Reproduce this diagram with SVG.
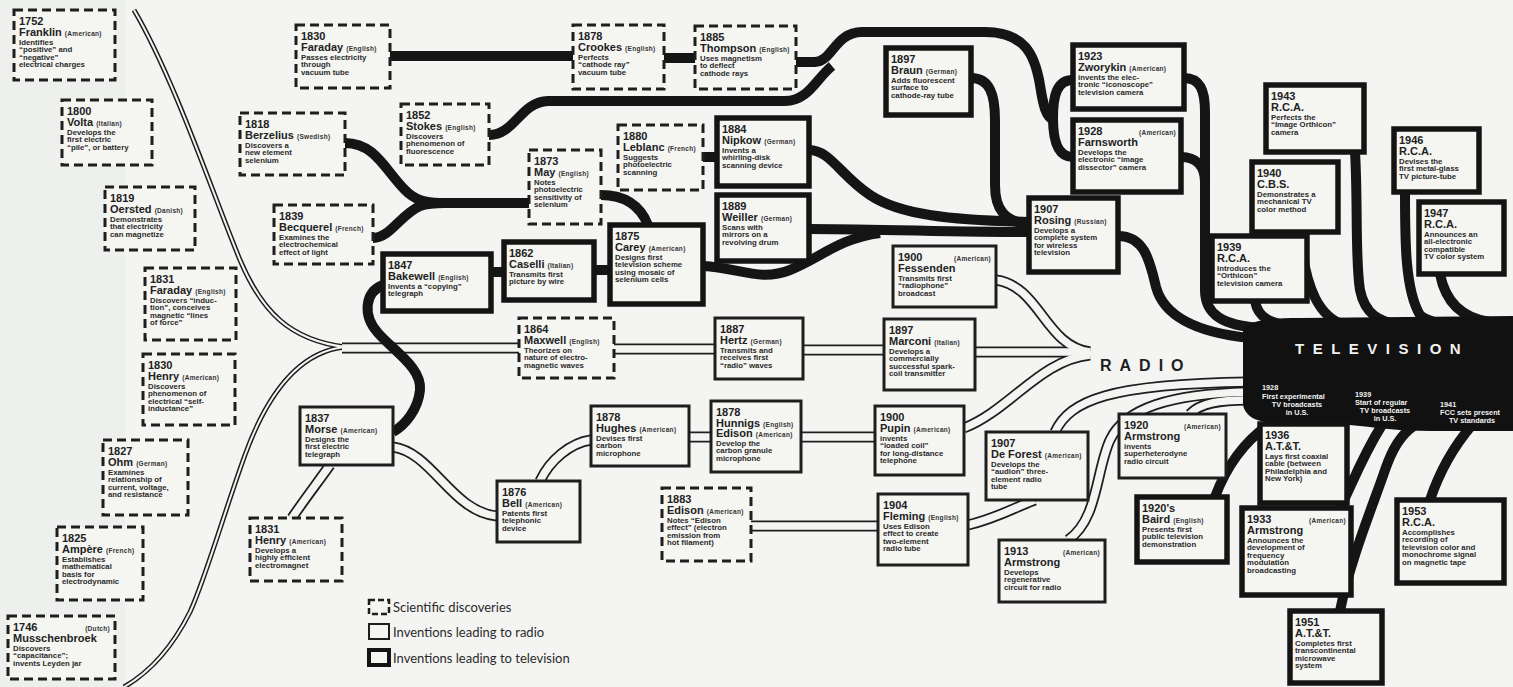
<svg xmlns="http://www.w3.org/2000/svg" xmlns:xlink="http://www.w3.org/1999/xlink" width="1513" height="687" viewBox="0 0 1513 687">
<style>
.bg{fill:#f4f5f2}
.sd{fill:#f5f5f2;stroke:#1e1e1e;stroke-width:3;stroke-dasharray:9 5}
.rd{fill:#f5f5f2;stroke:#1e1e1e;stroke-width:3}
.tvb{fill:#f5f5f2;stroke:#141414;stroke-width:5.5}
.yr{font-family:"Liberation Sans",Arial,sans-serif;font-weight:700;font-size:11px;fill:#222}
.nm{font-family:"Liberation Sans",Arial,sans-serif;font-weight:700;font-size:11px;fill:#222}
.nt{font-family:"Liberation Sans",Arial,sans-serif;font-weight:700;font-size:6.5px;fill:#333;letter-spacing:0.3px}
.ds{font-family:"Liberation Sans",Arial,sans-serif;font-weight:700;font-size:7.8px;fill:#2a2a2a}
.tv{fill:none;stroke:#151515;stroke-width:10}
.rb{fill:none;stroke:#1e1e1e;stroke-width:11}
.rw{fill:none;stroke:#f4f5f2;stroke-width:7.5}
.lb{fill:none;stroke:#1e1e1e;stroke-width:5}
.lw{fill:none;stroke:#f4f5f2;stroke-width:2}
.big{font-family:"Liberation Sans",Arial,sans-serif;font-weight:700}
.wt{font-family:"Liberation Sans",Arial,sans-serif;font-weight:700;font-size:7.3px;fill:#f2f2f2}
.lg{font-family:Lato,"Open Sans",sans-serif;font-size:13px;fill:#2a2a2a}
</style>
<defs>
<path id="r1" d="M134,10 C175,80 215,200 240,260 C262,312 290,340 345,347"/>
<path id="r2" d="M345,347 C295,352 265,400 245,455 C225,510 205,580 190,612 C172,648 150,672 124,687"/>
<path id="r3" d="M342,348 H519"/>
<path id="r4" d="M614,349 H715"/>
<path id="r5" d="M803,350 H884"/>
<path id="r6" d="M975,352 H1090"/>
<path id="r7" d="M996,280 C1040,286 1045,346 1090,352"/>
<path id="r8" d="M964,428 C1010,410 1040,360 1090,355"/>
<path id="r9" d="M393,447 C432,452 452,512 497,516"/>
<path id="r10" d="M540,481 C550,460 570,443 591,440"/>
<path id="r11" d="M689,437 H711"/>
<path id="r12" d="M801,437 H875"/>
<path id="r13" d="M330,465 C318,482 304,500 292,518"/>
<path id="r14" d="M751,526 H878"/>
<path id="r15" d="M968,525 C998,518 1020,505 1035,500"/>
<path id="r16" d="M1068,540 C1098,520 1096,470 1110,440 C1125,408 1170,394 1248,392"/>
<path id="r17" d="M1055,432 C1070,400 1110,384 1248,382"/>
<path id="r18" d="M1190,414 C1200,403 1220,400 1248,400"/>
</defs>
<rect class="bg" x="0" y="0" width="1513" height="687"/>
<rect x="0" y="0" width="125" height="687" fill="#eef0ee"/>

<g id="connectors">
<g id="radio-lines">
<use xlink:href="#r1" class="lb"/><use xlink:href="#r2" class="lb"/>
<use xlink:href="#r3" class="rb"/><use xlink:href="#r4" class="rb"/><use xlink:href="#r5" class="rb"/><use xlink:href="#r6" class="rb"/><use xlink:href="#r7" class="rb"/><use xlink:href="#r8" class="rb"/><use xlink:href="#r9" class="rb"/><use xlink:href="#r10" class="rb"/><use xlink:href="#r11" class="rb"/><use xlink:href="#r12" class="rb"/><use xlink:href="#r13" class="rb"/><use xlink:href="#r14" class="rb"/><use xlink:href="#r15" class="rb"/><use xlink:href="#r16" class="rb"/><use xlink:href="#r17" class="rb"/><use xlink:href="#r18" class="rb"/>
<use xlink:href="#r1" class="lw"/><use xlink:href="#r2" class="lw"/>
<use xlink:href="#r3" class="rw"/><use xlink:href="#r4" class="rw"/><use xlink:href="#r5" class="rw"/><use xlink:href="#r6" class="rw"/><use xlink:href="#r7" class="rw"/><use xlink:href="#r8" class="rw"/><use xlink:href="#r9" class="rw"/><use xlink:href="#r10" class="rw"/><use xlink:href="#r11" class="rw"/><use xlink:href="#r12" class="rw"/><use xlink:href="#r13" class="rw"/><use xlink:href="#r14" class="rw"/><use xlink:href="#r15" class="rw"/><use xlink:href="#r16" class="rw"/><use xlink:href="#r17" class="rw"/><use xlink:href="#r18" class="rw"/>
</g>
<g id="tv-lines">
<path class="tv" d="M390,56 H573"/>
<path class="tv" d="M663,58 H695"/>
<path class="tv" d="M796,62 H815 C832,62 835,32 862,32 H985 C1025,32 1035,55 1040,85 C1043,105 1046,118 1054,120"/>
<path class="tv" d="M489,135 C515,135 520,102 548,101 H785 C808,101 815,80 832,66"/>
<path class="tv" d="M1073,80 C1057,80 1053,95 1053,118 C1053,140 1057,157 1073,157"/>
<path class="tv" d="M1184,78 C1200,78 1205,90 1205,112 V290 C1205,314 1222,326 1262,328"/>
<path class="tv" d="M1181,157 C1195,157 1205,165 1205,182"/>
<path class="tv" d="M1118,236 C1145,236 1150,262 1156,287 C1163,313 1190,332 1250,338"/>
<path class="tv" d="M345,143 C375,143 385,170 405,190 C415,200 425,203 440,203 H529"/>
<path class="tv" d="M373,238 C390,238 400,215 420,206 C428,203 435,203 445,203"/>
<path class="tv" d="M383,285 C365,292 362,315 378,333 C395,352 422,368 420,390 C418,410 405,425 393,432"/>
<path class="tv" d="M491,272 H504"/>
<path class="tv" d="M594,270 H610"/>
<path class="tv" d="M601,195 C625,195 640,205 648,225"/>
<path class="tv" d="M703,157 H717"/>
<path class="tv" d="M809,150 C830,150 840,175 870,195 C900,215 950,220 1029,222"/>
<path class="tv" d="M809,229 C870,229 940,232 1029,232"/>
<path class="tv" d="M703,266 C740,268 760,282 790,270 C820,258 840,238 880,233"/>
<path class="tv" d="M971,78 C990,78 995,95 995,120 V185 C995,210 1005,222 1029,224"/>
<path class="tv" d="M1255,301 C1258,318 1270,324 1295,326"/>
<path class="tv" d="M1300,232 C1305,290 1320,318 1345,325"/>
<path class="tv" d="M1355,152 C1358,200 1355,260 1360,290 C1365,315 1380,322 1400,325"/>
<path class="tv" d="M1405,192 C1405,240 1405,290 1420,315 C1428,322 1440,324 1455,325"/>
<path class="tv" d="M1440,274 C1445,300 1460,318 1490,322"/>
<path class="tv" d="M1215,497 C1225,470 1240,445 1268,425"/>
<path class="tv" d="M1340,508 C1350,490 1360,460 1382,425"/>
<path class="tv" d="M1340,611 C1350,560 1375,500 1385,470 C1392,450 1400,435 1415,425"/>
<path class="tv" d="M1430,500 C1440,470 1455,445 1472,425"/>
</g>
</g>

<g id="television-trunk">
<path d="M1243,330 C1248,321 1268,318 1300,318 L1513,316 L1513,431 L1430,431 C1400,431 1380,428 1360,426 L1320,422 L1270,422 C1254,422 1244,414 1243,404 Z" fill="#111"/>
<text class="big" x="1295" y="354" font-size="15" fill="#f2f2f2" letter-spacing="8.5">TELEVISION</text>
<text class="wt" x="1262" y="390">1928</text>
<text class="wt" x="1262" y="399">First experimental</text>
<text class="wt" x="1297" y="407" text-anchor="middle">TV broadcasts</text>
<text class="wt" x="1297" y="415" text-anchor="middle">in U.S.</text>
<text class="wt" x="1355" y="397">1939</text>
<text class="wt" x="1355" y="405">Start of regular</text>
<text class="wt" x="1385" y="413" text-anchor="middle">TV broadcasts</text>
<text class="wt" x="1385" y="421" text-anchor="middle">in U.S.</text>
<text class="wt" x="1440" y="407">1941</text>
<text class="wt" x="1440" y="415">FCC sets present</text>
<text class="wt" x="1472" y="423" text-anchor="middle">TV standards</text>
</g>
<g id="radio-label">
<text class="big" x="1100" y="371" font-size="16" fill="#1e1e1e" letter-spacing="8">RADIO</text>
</g>

<!-- Scientific discoveries -->
<g id="n-franklin-1752"><rect class="sd" x="14" y="10" width="101" height="70"/><text class="yr" x="19" y="25">1752</text><text class="nm" x="19" y="36">Franklin <tspan class="nt">(American)</tspan></text><text class="ds" y="44.5"><tspan x="19">Identifies</tspan><tspan x="19" dy="7.5">“positive” and</tspan><tspan x="19" dy="7.5">“negative”</tspan><tspan x="19" dy="7.5">electrical charges</tspan></text></g>
<g id="n-volta-1800"><rect class="sd" x="62" y="100" width="90" height="65"/><text class="yr" x="67" y="115">1800</text><text class="nm" x="67" y="126">Volta <tspan class="nt">(Italian)</tspan></text><text class="ds" y="134.5"><tspan x="67">Develops the</tspan><tspan x="67" dy="7.5">first electric</tspan><tspan x="67" dy="7.5">“pile”, or battery</tspan></text></g>
<g id="n-oersted-1819"><rect class="sd" x="105" y="187" width="90" height="63"/><text class="yr" x="110" y="202">1819</text><text class="nm" x="110" y="213">Oersted <tspan class="nt">(Danish)</tspan></text><text class="ds" y="221.5"><tspan x="110">Demonstrates</tspan><tspan x="110" dy="7.5">that electricity</tspan><tspan x="110" dy="7.5">can magnetize</tspan></text></g>
<g id="n-faraday-1831"><rect class="sd" x="145" y="268" width="91" height="72"/><text class="yr" x="150" y="283">1831</text><text class="nm" x="150" y="294">Faraday <tspan class="nt">(English)</tspan></text><text class="ds" y="302.5"><tspan x="150">Discovers “induc-</tspan><tspan x="150" dy="7.5">tion”, conceives</tspan><tspan x="150" dy="7.5">magnetic “lines</tspan><tspan x="150" dy="7.5">of force”</tspan></text></g>
<g id="n-henry-1830"><rect class="sd" x="143" y="354" width="92" height="71"/><text class="yr" x="148" y="369">1830</text><text class="nm" x="148" y="380">Henry <tspan class="nt">(American)</tspan></text><text class="ds" y="388.5"><tspan x="148">Discovers</tspan><tspan x="148" dy="7.5">phenomenon of</tspan><tspan x="148" dy="7.5">electrical “self-</tspan><tspan x="148" dy="7.5">inductance”</tspan></text></g>
<g id="n-ohm-1827"><rect class="sd" x="103" y="440" width="85" height="75"/><text class="yr" x="108" y="455">1827</text><text class="nm" x="108" y="466">Ohm <tspan class="nt">(German)</tspan></text><text class="ds" y="474.5"><tspan x="108">Examines</tspan><tspan x="108" dy="7.5">relationship of</tspan><tspan x="108" dy="7.5">current, voltage,</tspan><tspan x="108" dy="7.5">and resistance</tspan></text></g>
<g id="n-ampere-1825"><rect class="sd" x="57" y="527" width="86" height="73"/><text class="yr" x="62" y="542">1825</text><text class="nm" x="62" y="553">Ampère <tspan class="nt">(French)</tspan></text><text class="ds" y="561.5"><tspan x="62">Establishes</tspan><tspan x="62" dy="7.5">mathematical</tspan><tspan x="62" dy="7.5">basis for</tspan><tspan x="62" dy="7.5">electrodynamic</tspan></text></g>
<g id="n-musschenbroek-1746"><rect class="sd" x="8" y="616" width="107" height="63"/><text class="yr" x="13" y="631">1746</text><text class="nt" x="110" y="631" text-anchor="end">(Dutch)</text><text class="nm" x="13" y="642">Musschenbroek</text><text class="ds" y="650.5"><tspan x="13">Discovers</tspan><tspan x="13" dy="7.5">“capacitance”;</tspan><tspan x="13" dy="7.5">invents Leyden jar</tspan></text></g>
<g id="n-faraday-1830"><rect class="sd" x="296" y="25" width="94" height="63"/><text class="yr" x="301" y="40">1830</text><text class="nm" x="301" y="51">Faraday <tspan class="nt">(English)</tspan></text><text class="ds" y="59.5"><tspan x="301">Passes electricity</tspan><tspan x="301" dy="7.5">through</tspan><tspan x="301" dy="7.5">vacuum tube</tspan></text></g>
<g id="n-berzelius-1818"><rect class="sd" x="240" y="113" width="105" height="62"/><text class="yr" x="245" y="128">1818</text><text class="nm" x="245" y="139">Berzelius <tspan class="nt">(Swedish)</tspan></text><text class="ds" y="147.5"><tspan x="245">Discovers a</tspan><tspan x="245" dy="7.5">new element</tspan><tspan x="245" dy="7.5">selenium</tspan></text></g>
<g id="n-becquerel-1839"><rect class="sd" x="274" y="205" width="99" height="59"/><text class="yr" x="279" y="220">1839</text><text class="nm" x="279" y="231">Becquerel <tspan class="nt">(French)</tspan></text><text class="ds" y="239.5"><tspan x="279">Examines the</tspan><tspan x="279" dy="7.5">electrochemical</tspan><tspan x="279" dy="7.5">effect of light</tspan></text></g>
<g id="n-stokes-1852"><rect class="sd" x="401" y="104" width="88" height="61"/><text class="yr" x="406" y="119">1852</text><text class="nm" x="406" y="130">Stokes <tspan class="nt">(English)</tspan></text><text class="ds" y="138.5"><tspan x="406">Discovers</tspan><tspan x="406" dy="7.5">phenomenon of</tspan><tspan x="406" dy="7.5">fluorescence</tspan></text></g>
<g id="n-crookes-1878"><rect class="sd" x="573" y="25" width="91" height="64"/><text class="yr" x="578" y="40">1878</text><text class="nm" x="578" y="51">Crookes <tspan class="nt">(English)</tspan></text><text class="ds" y="59.5"><tspan x="578">Perfects</tspan><tspan x="578" dy="7.5">“cathode ray”</tspan><tspan x="578" dy="7.5">vacuum tube</tspan></text></g>
<g id="n-thompson-1885"><rect class="sd" x="695" y="26" width="101" height="63"/><text class="yr" x="700" y="41">1885</text><text class="nm" x="700" y="52">Thompson <tspan class="nt">(English)</tspan></text><text class="ds" y="60.5"><tspan x="700">Uses magnetism</tspan><tspan x="700" dy="7.5">to deflect</tspan><tspan x="700" dy="7.5">cathode rays</tspan></text></g>
<g id="n-leblanc-1880"><rect class="sd" x="618" y="125" width="85" height="65"/><text class="yr" x="623" y="140">1880</text><text class="nm" x="623" y="151">Leblanc <tspan class="nt">(French)</tspan></text><text class="ds" y="159.5"><tspan x="623">Suggests</tspan><tspan x="623" dy="7.5">photoelectric</tspan><tspan x="623" dy="7.5">scanning</tspan></text></g>
<g id="n-may-1873"><rect class="sd" x="529" y="150" width="72" height="74"/><text class="yr" x="534" y="165">1873</text><text class="nm" x="534" y="176">May <tspan class="nt">(English)</tspan></text><text class="ds" y="184.5"><tspan x="534">Notes</tspan><tspan x="534" dy="7.5">photoelectric</tspan><tspan x="534" dy="7.5">sensitivity of</tspan><tspan x="534" dy="7.5">selenium</tspan></text></g>
<g id="n-maxwell-1864"><rect class="sd" x="519" y="318" width="95" height="60"/><text class="yr" x="524" y="333">1864</text><text class="nm" x="524" y="344">Maxwell <tspan class="nt">(English)</tspan></text><text class="ds" y="352.5"><tspan x="524">Theorizes on</tspan><tspan x="524" dy="7.5">nature of electro-</tspan><tspan x="524" dy="7.5">magnetic waves</tspan></text></g>
<g id="n-henry-1831"><rect class="sd" x="250" y="518" width="92" height="63"/><text class="yr" x="255" y="533">1831</text><text class="nm" x="255" y="544">Henry <tspan class="nt">(American)</tspan></text><text class="ds" y="552.5"><tspan x="255">Develops a</tspan><tspan x="255" dy="7.5">highly efficient</tspan><tspan x="255" dy="7.5">electromagnet</tspan></text></g>
<g id="n-edison-1883"><rect class="sd" x="662" y="488" width="89" height="73"/><text class="yr" x="667" y="503">1883</text><text class="nm" x="667" y="514">Edison <tspan class="nt">(American)</tspan></text><text class="ds" y="522.5"><tspan x="667">Notes “Edison</tspan><tspan x="667" dy="7.5">effect” (electron</tspan><tspan x="667" dy="7.5">emission from</tspan><tspan x="667" dy="7.5">hot filament)</tspan></text></g>

<!-- Inventions leading to radio -->
<g id="n-morse-1837"><rect class="rd" x="300" y="407" width="93" height="58"/><text class="yr" x="305" y="422">1837</text><text class="nm" x="305" y="433">Morse <tspan class="nt">(American)</tspan></text><text class="ds" y="441.5"><tspan x="305">Designs the</tspan><tspan x="305" dy="7.5">first electric</tspan><tspan x="305" dy="7.5">telegraph</tspan></text></g>
<g id="n-bell-1876"><rect class="rd" x="497" y="481" width="83" height="61"/><text class="yr" x="502" y="496">1876</text><text class="nm" x="502" y="507">Bell <tspan class="nt">(American)</tspan></text><text class="ds" y="515.5"><tspan x="502">Patents first</tspan><tspan x="502" dy="7.5">telephonic</tspan><tspan x="502" dy="7.5">device</tspan></text></g>
<g id="n-hughes-1878"><rect class="rd" x="591" y="406" width="98" height="60"/><text class="yr" x="596" y="421">1878</text><text class="nm" x="596" y="432">Hughes <tspan class="nt">(American)</tspan></text><text class="ds" y="440.5"><tspan x="596">Devises first</tspan><tspan x="596" dy="7.5">carbon</tspan><tspan x="596" dy="7.5">microphone</tspan></text></g>
<g id="n-hunnigs-edison-1878"><rect class="rd" x="711" y="401" width="90" height="71"/><text class="yr" x="716" y="416">1878</text><text class="nm" x="716" y="427">Hunnigs <tspan class="nt">(English)</tspan></text><text class="nm" x="716" y="437">Edison <tspan class="nt">(American)</tspan></text><text class="ds" y="445.5"><tspan x="716">Develop the</tspan><tspan x="716" dy="7.5">carbon granule</tspan><tspan x="716" dy="7.5">microphone</tspan></text></g>
<g id="n-hertz-1887"><rect class="rd" x="715" y="318" width="88" height="61"/><text class="yr" x="720" y="333">1887</text><text class="nm" x="720" y="344">Hertz <tspan class="nt">(German)</tspan></text><text class="ds" y="352.5"><tspan x="720">Transmits and</tspan><tspan x="720" dy="7.5">receives first</tspan><tspan x="720" dy="7.5">“radio” waves</tspan></text></g>
<g id="n-fessenden-1900"><rect class="rd" x="893" y="246" width="103" height="61"/><text class="yr" x="898" y="261">1900</text><text class="nt" x="991" y="261" text-anchor="end">(American)</text><text class="nm" x="898" y="272">Fessenden</text><text class="ds" y="280.5"><tspan x="898">Transmits first</tspan><tspan x="898" dy="7.5">“radiophone”</tspan><tspan x="898" dy="7.5">broadcast</tspan></text></g>
<g id="n-marconi-1897"><rect class="rd" x="884" y="319" width="91" height="71"/><text class="yr" x="889" y="334">1897</text><text class="nm" x="889" y="345">Marconi <tspan class="nt">(Italian)</tspan></text><text class="ds" y="353.5"><tspan x="889">Develops a</tspan><tspan x="889" dy="7.5">commercially</tspan><tspan x="889" dy="7.5">successful spark-</tspan><tspan x="889" dy="7.5">coil transmitter</tspan></text></g>
<g id="n-pupin-1900"><rect class="rd" x="875" y="406" width="89" height="69"/><text class="yr" x="880" y="421">1900</text><text class="nm" x="880" y="432">Pupin <tspan class="nt">(American)</tspan></text><text class="ds" y="440.5"><tspan x="880">invents</tspan><tspan x="880" dy="7.5">“loaded coil”</tspan><tspan x="880" dy="7.5">for long-distance</tspan><tspan x="880" dy="7.5">telephone</tspan></text></g>
<g id="n-fleming-1904"><rect class="rd" x="878" y="494" width="90" height="71"/><text class="yr" x="883" y="509">1904</text><text class="nm" x="883" y="520">Fleming <tspan class="nt">(English)</tspan></text><text class="ds" y="528.5"><tspan x="883">Uses Edison</tspan><tspan x="883" dy="7.5">effect to create</tspan><tspan x="883" dy="7.5">two-element</tspan><tspan x="883" dy="7.5">radio tube</tspan></text></g>
<g id="n-deforest-1907"><rect class="rd" x="986" y="432" width="102" height="68"/><text class="yr" x="991" y="447">1907</text><text class="nm" x="991" y="458">De Forest <tspan class="nt">(American)</tspan></text><text class="ds" y="466.5"><tspan x="991">Develops the</tspan><tspan x="991" dy="7.5">“audion” three-</tspan><tspan x="991" dy="7.5">element radio</tspan><tspan x="991" dy="7.5">tube</tspan></text></g>
<g id="n-armstrong-1913"><rect class="rd" x="999" y="540" width="106" height="62"/><text class="yr" x="1004" y="555">1913</text><text class="nt" x="1100" y="555" text-anchor="end">(American)</text><text class="nm" x="1004" y="566">Armstrong</text><text class="ds" y="574.5"><tspan x="1004">Develops</tspan><tspan x="1004" dy="7.5">regenerative</tspan><tspan x="1004" dy="7.5">circuit for radio</tspan></text></g>
<g id="n-armstrong-1920"><rect class="rd" x="1119" y="414" width="107" height="64"/><text class="yr" x="1124" y="429">1920</text><text class="nt" x="1221" y="429" text-anchor="end">(American)</text><text class="nm" x="1124" y="440">Armstrong</text><text class="ds" y="448.5"><tspan x="1124">invents</tspan><tspan x="1124" dy="7.5">superheterodyne</tspan><tspan x="1124" dy="7.5">radio circuit</tspan></text></g>

<!-- Inventions leading to television -->
<g id="n-bakewell-1847"><rect class="tvb" x="383" y="254" width="108" height="57"/><text class="yr" x="388" y="269">1847</text><text class="nm" x="388" y="280">Bakewell <tspan class="nt">(English)</tspan></text><text class="ds" y="288.5"><tspan x="388">Invents a “copying”</tspan><tspan x="388" dy="7.5">telegraph</tspan></text></g>
<g id="n-caselli-1862"><rect class="tvb" x="504" y="242" width="90" height="58"/><text class="yr" x="509" y="257">1862</text><text class="nm" x="509" y="268">Caselli <tspan class="nt">(Italian)</tspan></text><text class="ds" y="276.5"><tspan x="509">Transmits first</tspan><tspan x="509" dy="7.5">picture by wire</tspan></text></g>
<g id="n-carey-1875"><rect class="tvb" x="610" y="225" width="93" height="79"/><text class="yr" x="615" y="240">1875</text><text class="nm" x="615" y="251">Carey <tspan class="nt">(American)</tspan></text><text class="ds" y="259.5"><tspan x="615">Designs first</tspan><tspan x="615" dy="7.5">television scheme</tspan><tspan x="615" dy="7.5">using mosaic of</tspan><tspan x="615" dy="7.5">selenium cells</tspan></text></g>
<g id="n-nipkow-1884"><rect class="tvb" x="717" y="118" width="92" height="68"/><text class="yr" x="722" y="133">1884</text><text class="nm" x="722" y="144">Nipkow <tspan class="nt">(German)</tspan></text><text class="ds" y="152.5"><tspan x="722">Invents a</tspan><tspan x="722" dy="7.5">whirling-disk</tspan><tspan x="722" dy="7.5">scanning device</tspan></text></g>
<g id="n-weiller-1889"><rect class="tvb" x="717" y="195" width="92" height="66"/><text class="yr" x="722" y="210">1889</text><text class="nm" x="722" y="221">Weiller <tspan class="nt">(German)</tspan></text><text class="ds" y="229.5"><tspan x="722">Scans with</tspan><tspan x="722" dy="7.5">mirrors on a</tspan><tspan x="722" dy="7.5">revolving drum</tspan></text></g>
<g id="n-braun-1897"><rect class="tvb" x="886" y="48" width="85" height="67"/><text class="yr" x="891" y="63">1897</text><text class="nm" x="891" y="74">Braun <tspan class="nt">(German)</tspan></text><text class="ds" y="82.5"><tspan x="891">Adds fluorescent</tspan><tspan x="891" dy="7.5">surface to</tspan><tspan x="891" dy="7.5">cathode-ray tube</tspan></text></g>
<g id="n-rosing-1907"><rect class="tvb" x="1029" y="198" width="89" height="74"/><text class="yr" x="1034" y="213">1907</text><text class="nm" x="1034" y="224">Rosing <tspan class="nt">(Russian)</tspan></text><text class="ds" y="232.5"><tspan x="1034">Develops a</tspan><tspan x="1034" dy="7.5">complete system</tspan><tspan x="1034" dy="7.5">for wireless</tspan><tspan x="1034" dy="7.5">television</tspan></text></g>
<g id="n-zworykin-1923"><rect class="tvb" x="1073" y="45" width="111" height="64"/><text class="yr" x="1078" y="60">1923</text><text class="nm" x="1078" y="71">Zworykin <tspan class="nt">(American)</tspan></text><text class="ds" y="79.5"><tspan x="1078">invents the elec-</tspan><tspan x="1078" dy="7.5">tronic “iconoscope”</tspan><tspan x="1078" dy="7.5">television camera</tspan></text></g>
<g id="n-farnsworth-1928"><rect class="tvb" x="1073" y="120" width="108" height="72"/><text class="yr" x="1078" y="135">1928</text><text class="nt" x="1176" y="135" text-anchor="end">(American)</text><text class="nm" x="1078" y="146">Farnsworth</text><text class="ds" y="154.5"><tspan x="1078">Develops the</tspan><tspan x="1078" dy="7.5">electronic “image</tspan><tspan x="1078" dy="7.5">dissector” camera</tspan></text></g>
<g id="n-rca-1943"><rect class="tvb" x="1266" y="85" width="98" height="67"/><text class="yr" x="1271" y="100">1943</text><text class="nm" x="1271" y="111">R.C.A.</text><text class="ds" y="119.5"><tspan x="1271">Perfects the</tspan><tspan x="1271" dy="7.5">“Image Orthicon”</tspan><tspan x="1271" dy="7.5">camera</tspan></text></g>
<g id="n-cbs-1940"><rect class="tvb" x="1252" y="162" width="86" height="70"/><text class="yr" x="1257" y="177">1940</text><text class="nm" x="1257" y="188">C.B.S.</text><text class="ds" y="196.5"><tspan x="1257">Demonstrates a</tspan><tspan x="1257" dy="7.5">mechanical TV</tspan><tspan x="1257" dy="7.5">color method</tspan></text></g>
<g id="n-rca-1946"><rect class="tvb" x="1394" y="129" width="85" height="63"/><text class="yr" x="1399" y="144">1946</text><text class="nm" x="1399" y="155">R.C.A.</text><text class="ds" y="163.5"><tspan x="1399">Devises the</tspan><tspan x="1399" dy="7.5">first metal-glass</tspan><tspan x="1399" dy="7.5">TV picture-tube</tspan></text></g>
<g id="n-rca-1947"><rect class="tvb" x="1419" y="202" width="85" height="72"/><text class="yr" x="1424" y="217">1947</text><text class="nm" x="1424" y="228">R.C.A.</text><text class="ds" y="236.5"><tspan x="1424">Announces an</tspan><tspan x="1424" dy="7.5">all-electronic</tspan><tspan x="1424" dy="7.5">compatible</tspan><tspan x="1424" dy="7.5">TV color system</tspan></text></g>
<g id="n-rca-1939"><rect class="tvb" x="1212" y="236" width="95" height="65"/><text class="yr" x="1217" y="251">1939</text><text class="nm" x="1217" y="262">R.C.A.</text><text class="ds" y="270.5"><tspan x="1217">Introduces the</tspan><tspan x="1217" dy="7.5">“Orthicon”</tspan><tspan x="1217" dy="7.5">television camera</tspan></text></g>
<g id="n-baird-1920s"><rect class="tvb" x="1137" y="497" width="90" height="65"/><text class="yr" x="1142" y="512">1920's</text><text class="nm" x="1142" y="523">Baird <tspan class="nt">(English)</tspan></text><text class="ds" y="531.5"><tspan x="1142">Presents first</tspan><tspan x="1142" dy="7.5">public television</tspan><tspan x="1142" dy="7.5">demonstration</tspan></text></g>
<g id="n-att-1936"><rect class="tvb" x="1260" y="424" width="87" height="79"/><text class="yr" x="1265" y="439">1936</text><text class="nm" x="1265" y="450">A.T.&amp;T.</text><text class="ds" y="458.5"><tspan x="1265">Lays first coaxial</tspan><tspan x="1265" dy="7.5">cable (between</tspan><tspan x="1265" dy="7.5">Philadelphia and</tspan><tspan x="1265" dy="7.5">New York)</tspan></text></g>
<g id="n-armstrong-1933"><rect class="tvb" x="1242" y="508" width="109" height="87"/><text class="yr" x="1247" y="523">1933</text><text class="nt" x="1346" y="523" text-anchor="end">(American)</text><text class="nm" x="1247" y="534">Armstrong</text><text class="ds" y="542.5"><tspan x="1247">Announces the</tspan><tspan x="1247" dy="7.5">development of</tspan><tspan x="1247" dy="7.5">frequency</tspan><tspan x="1247" dy="7.5">modulation</tspan><tspan x="1247" dy="7.5">broadcasting</tspan></text></g>
<g id="n-rca-1953"><rect class="tvb" x="1397" y="500" width="107" height="83"/><text class="yr" x="1402" y="515">1953</text><text class="nm" x="1402" y="526">R.C.A.</text><text class="ds" y="534.5"><tspan x="1402">Accomplishes</tspan><tspan x="1402" dy="7.5">recording of</tspan><tspan x="1402" dy="7.5">television color and</tspan><tspan x="1402" dy="7.5">monochrome signal</tspan><tspan x="1402" dy="7.5">on magnetic tape</tspan></text></g>
<g id="n-att-1951"><rect class="tvb" x="1290" y="611" width="92" height="72"/><text class="yr" x="1295" y="626">1951</text><text class="nm" x="1295" y="637">A.T.&amp;T.</text><text class="ds" y="645.5"><tspan x="1295">Completes first</tspan><tspan x="1295" dy="7.5">transcontinental</tspan><tspan x="1295" dy="7.5">microwave</tspan><tspan x="1295" dy="7.5">system</tspan></text></g>

<g id="legend">
<rect class="sd" x="369" y="600" width="20" height="14" style="stroke-width:2.5;stroke-dasharray:6 3"/>
<text class="lg" x="393" y="612">Scientific discoveries</text>
<rect class="rd" x="369" y="624" width="20" height="15" style="stroke-width:2"/>
<text class="lg" x="393" y="637">Inventions leading to radio</text>
<rect class="tvb" x="369" y="650" width="20" height="15" style="stroke-width:4"/>
<text class="lg" x="393" y="663">Inventions leading to television</text>
</g>
</svg>
